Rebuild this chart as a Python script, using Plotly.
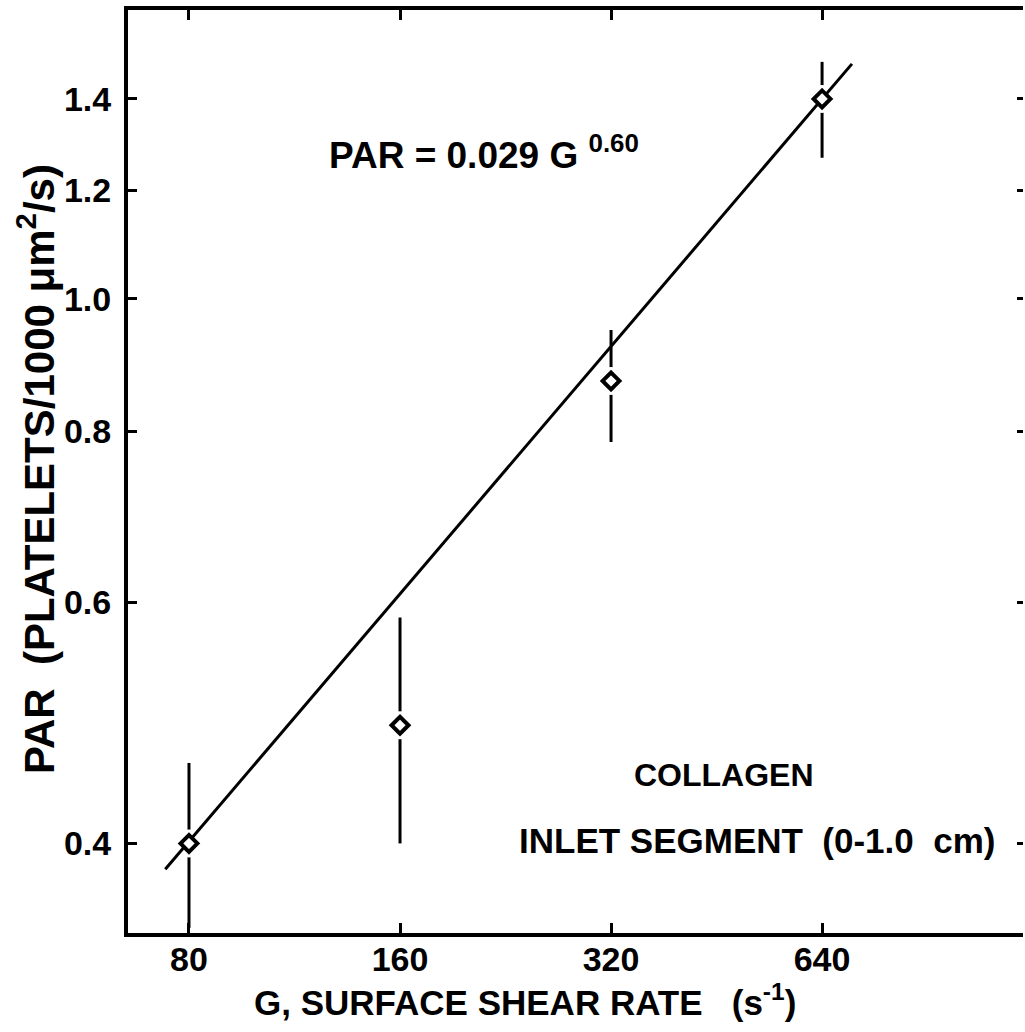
import plotly.graph_objects as go

# Data
G = [80, 160, 320, 640]
PAR = [0.40, 0.488, 0.871, 1.40]
PAR_hi = [0.458, 0.585, 0.949, 1.49]
PAR_lo = [0.347, 0.40, 0.786, 1.268]

fit_G = [74, 706]
fit_PAR = [0.383, 1.485]

x_ticks = [80, 160, 320, 640]
y_ticks = [0.4, 0.6, 0.8, 1.0, 1.2, 1.4]
y_tick_text = ["0.4", "0.6", "0.8", "1.0", "1.2", "1.4"]

err_plus = [h - v for h, v in zip(PAR_hi, PAR)]
err_minus = [v - l for v, l in zip(PAR, PAR_lo)]

FONT = "Liberation Sans"
fig = go.Figure()

# error bars with white disc to create gaps around markers
fig.add_trace(go.Scatter(
    x=G, y=PAR, mode="markers",
    marker=dict(symbol="circle", size=28, color="white", line=dict(width=0)),
    error_y=dict(type="data", symmetric=False, array=err_plus, arrayminus=err_minus,
                 color="black", thickness=3, width=0),
    showlegend=False, hoverinfo="skip"))

fig.add_trace(go.Scatter(
    x=fit_G, y=fit_PAR, mode="lines",
    line=dict(color="black", width=3), showlegend=False))

fig.add_trace(go.Scatter(
    x=G, y=PAR, mode="markers",
    marker=dict(symbol="diamond", size=13, color="white", line=dict(color="black", width=4)),
    showlegend=False))

# right-side ticks without a line
fig.add_trace(go.Scatter(x=[80], y=[0.4], yaxis="y2", mode="markers",
                         marker=dict(opacity=0), showlegend=False, hoverinfo="skip"))

yrange = [-0.4634, 0.2111]
xrange = [1.8161, 3.0928]

fig.update_layout(
    width=1025, height=1032,
    margin=dict(l=128, r=2, t=10, b=99),
    paper_bgcolor="white", plot_bgcolor="white",
    font=dict(family=FONT, color="black", size=32, weight="bold"),
    xaxis=dict(type="log", range=xrange, tickvals=x_ticks, ticktext=[str(v) for v in x_ticks],
               showgrid=False, zeroline=False, showline=True, linecolor="black", linewidth=4,
               mirror="ticks", ticks="inside", ticklen=10, tickwidth=2.5, tickcolor="black",
               tickfont=dict(family=FONT, size=34, weight="bold"), ticklabelstandoff=-7),
    yaxis=dict(type="log", range=yrange, tickvals=y_ticks, ticktext=y_tick_text,
               showgrid=False, zeroline=False, showline=True, linecolor="black", linewidth=4,
               ticks="inside", ticklen=9, tickwidth=2.5, tickcolor="black",
               tickfont=dict(family=FONT, size=34, weight="bold"), ticklabelstandoff=6),
    yaxis2=dict(type="log", range=yrange, tickvals=y_ticks, overlaying="y", side="right",
                showgrid=False, zeroline=False, showline=False, showticklabels=False,
                ticks="inside", ticklen=6, tickwidth=2.5, tickcolor="black"),
    annotations=[
        dict(text="PAR\u00a0=\u00a00.029\u00a0G\u00a0<sup>0.60</sup>", xref="paper", yref="paper",
             x=(327 - 128) / 895, y=(933 - 152) / 923, xanchor="left", yanchor="middle",
             showarrow=False, font=dict(family=FONT, size=37, weight="bold")),
        dict(text="COLLAGEN", xref="paper", yref="paper",
             x=(724 - 128) / 895, y=(933 - 775) / 923, xanchor="center", yanchor="middle",
             showarrow=False, font=dict(family=FONT, size=32, weight="bold")),
        dict(text="INLET\u00a0SEGMENT\u00a0\u00a0(0-1.0\u00a0\u00a0cm)", xref="paper", yref="paper",
             x=(757 - 128) / 895, y=(933 - 840) / 923, xanchor="center", yanchor="middle",
             showarrow=False, font=dict(family=FONT, size=35, weight="bold")),
        dict(text="G, SURFACE SHEAR RATE\u00a0\u00a0\u00a0(s<sup>-1</sup>)", xref="paper", yref="paper",
             x=(525 - 128) / 895, y=(933 - 1000) / 923, xanchor="center", yanchor="middle",
             showarrow=False, font=dict(family=FONT, size=35, weight="bold")),
        dict(text="PAR\u00a0\u00a0(PLATELETS/1000 \u03bcm<sup>2</sup>/s)", xref="paper", yref="paper",
             x=(36 - 128) / 895, y=(933 - 469) / 923, xanchor="center", yanchor="middle",
             textangle=-90, showarrow=False, font=dict(family=FONT, size=42, weight="bold")),
    ],
)

fig.write_html("out.html")
